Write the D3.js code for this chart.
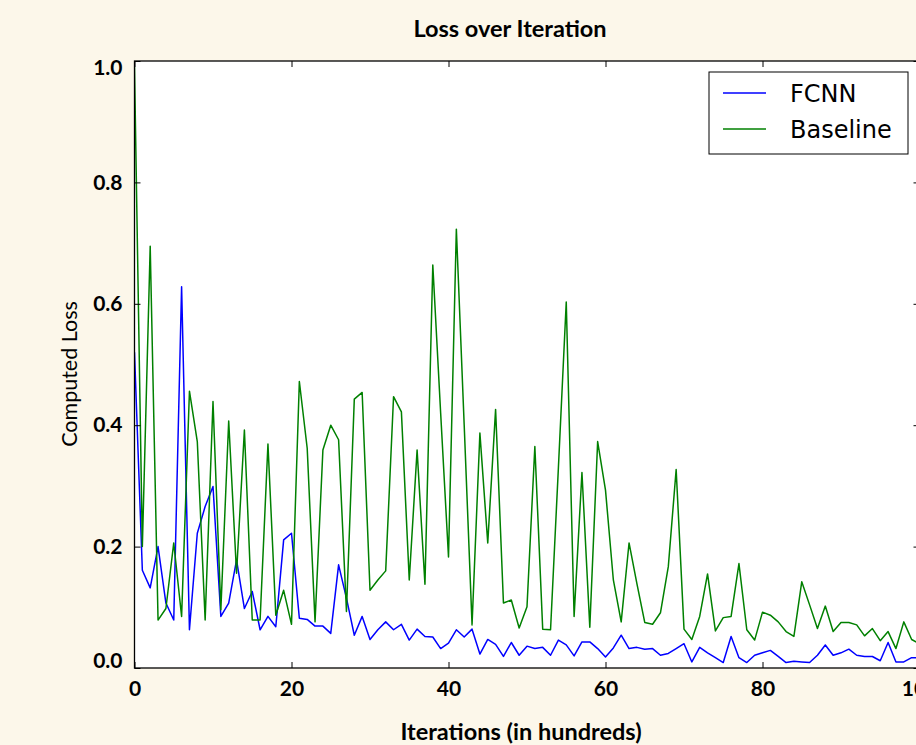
<!DOCTYPE html>
<html>
<head>
<meta charset="utf-8">
<script src="https://cdn.jsdelivr.net/npm/d3@7"></script>
<style>
  html, body { margin: 0; padding: 0; background: #fcf7ea; overflow: hidden; }
  svg { display: block; }
</style>
</head>
<body>
<svg id="chart" width="916" height="745"></svg>
<script>
// ---- Data ----
const iterations = d3.range(0, 101); // x values, in hundreds
const fcnn = [
  0.52, 0.161, 0.132, 0.200, 0.107, 0.079, 0.628, 0.063, 0.222, 0.266,
  0.299, 0.085, 0.107, 0.178, 0.098, 0.126, 0.063, 0.085, 0.068, 0.211,
  0.222, 0.082, 0.080, 0.069, 0.069, 0.057, 0.170, 0.115, 0.054, 0.085,
  0.047, 0.063, 0.076, 0.063, 0.072, 0.046, 0.064, 0.052, 0.051, 0.032,
  0.041, 0.063, 0.051, 0.064, 0.023, 0.047, 0.039, 0.019, 0.042, 0.021,
  0.036, 0.032, 0.034, 0.021, 0.046, 0.038, 0.020, 0.043, 0.043, 0.032,
  0.018, 0.033, 0.054, 0.032, 0.034, 0.031, 0.032, 0.021, 0.024, 0.032,
  0.040, 0.010, 0.034, 0.025, 0.017, 0.009, 0.052, 0.017, 0.009, 0.021,
  0.025, 0.029, 0.019, 0.009, 0.011, 0.010, 0.009, 0.021, 0.038, 0.021,
  0.025, 0.031, 0.021, 0.019, 0.019, 0.012, 0.042, 0.010, 0.010, 0.017,
  0.017
];
const baseline = [
  0.99, 0.200, 0.695, 0.079, 0.098, 0.206, 0.085, 0.456, 0.373, 0.079,
  0.439, 0.096, 0.407, 0.156, 0.392, 0.079, 0.079, 0.369, 0.087, 0.128,
  0.072, 0.472, 0.362, 0.076, 0.359, 0.400, 0.376, 0.093, 0.443, 0.454,
  0.128, 0.145, 0.160, 0.447, 0.422, 0.145, 0.359, 0.138, 0.664, 0.420,
  0.183, 0.723, 0.400, 0.071, 0.387, 0.206, 0.426, 0.107, 0.112, 0.066,
  0.101, 0.365, 0.064, 0.063, 0.330, 0.603, 0.085, 0.322, 0.067, 0.373,
  0.293, 0.145, 0.076, 0.206, 0.139, 0.075, 0.072, 0.091, 0.167, 0.327,
  0.064, 0.047, 0.085, 0.155, 0.061, 0.083, 0.085, 0.172, 0.063, 0.046,
  0.092, 0.087, 0.076, 0.060, 0.052, 0.142, 0.104, 0.065, 0.102, 0.060,
  0.075, 0.075, 0.071, 0.053, 0.065, 0.045, 0.060, 0.032, 0.076, 0.047,
  0.040
];
const xTicks = [0, 20, 40, 60, 80, 100];
const yTicks = [0.0, 0.2, 0.4, 0.6, 0.8, 1.0];
const seriesNames = ["FCNN", "Baseline"];
const seriesColors = ["#0000ff", "#008000"];

// ---- Layout ----
const svg = d3.select("#chart");
const pLeft = 134.5, pRight = 919.5, pTop = 61, pBottom = 668;
const x = d3.scaleLinear().domain([0, 100]).range([pLeft, pRight]);
const y = d3.scaleLinear().domain([0, 1]).range([pBottom, pTop]);

const fontMain = "Lato, 'Open Sans', sans-serif";

// plot background
svg.append("rect")
  .attr("x", pLeft).attr("y", pTop)
  .attr("width", pRight - pLeft).attr("height", pBottom - pTop)
  .attr("fill", "#ffffff");

// clip for lines
svg.append("clipPath").attr("id", "clip")
  .append("rect").attr("x", pLeft).attr("y", pTop)
  .attr("width", pRight - pLeft).attr("height", pBottom - pTop);

const line = d3.line().x((d, i) => x(iterations[i])).y(d => y(d));
const allSeries = [fcnn, baseline];
allSeries.forEach((s, k) => {
  svg.append("path")
    .datum(s)
    .attr("clip-path", "url(#clip)")
    .attr("fill", "none")
    .attr("stroke", seriesColors[k])
    .attr("stroke-width", 1.5)
    .attr("stroke-linejoin", "round")
    .attr("d", line);
});

// axes (ticks inward)
const tickLen = 6;
const xAxisB = d3.axisBottom(x).tickValues(xTicks).tickFormat(d3.format("d"))
  .tickSizeInner(-tickLen).tickSizeOuter(0).tickPadding(13);
const xAxisT = d3.axisTop(x).tickValues(xTicks).tickFormat("")
  .tickSizeInner(-tickLen).tickSizeOuter(0);
const yAxisL = d3.axisLeft(y).tickValues(yTicks).tickFormat(d3.format(".1f"))
  .tickSizeInner(-tickLen).tickSizeOuter(0).tickPadding(12);
const yAxisR = d3.axisRight(y).tickValues(yTicks).tickFormat("")
  .tickSizeInner(-tickLen).tickSizeOuter(0);

function styleAxis(g) {
  g.select(".domain").remove();
  g.selectAll(".tick line").attr("stroke", "#000").attr("stroke-width", 1);
  g.selectAll("text")
    .attr("fill", "#000")
    .style("font-family", fontMain)
    .style("font-weight", "700")
    .style("font-size", "21px");
}
svg.append("g").attr("transform", `translate(0,${pBottom})`).call(xAxisB).call(styleAxis);
svg.append("g").attr("transform", `translate(0,${pTop})`).call(xAxisT).call(styleAxis);
const gyl = svg.append("g").attr("transform", `translate(${pLeft},0)`).call(yAxisL).call(styleAxis);
// edge labels sit slightly inside the axis range, as in the reference
gyl.selectAll(".tick text").attr("dy", d => d === 1 ? "0.62em" : d === 0 ? "-0.02em" : "0.32em");
svg.append("g").attr("transform", `translate(${pRight},0)`).call(yAxisR).call(styleAxis);

// spines
svg.append("rect")
  .attr("x", pLeft).attr("y", pTop)
  .attr("width", pRight - pLeft).attr("height", pBottom - pTop)
  .attr("fill", "none").attr("stroke", "#000").attr("stroke-width", 1.3);

// title and labels
svg.append("text")
  .attr("x", 510).attr("y", 37)
  .attr("text-anchor", "middle")
  .style("font-family", fontMain).style("font-weight", "700").style("font-size", "23.5px")
  .text("Loss over Iteration");
svg.append("text")
  .attr("x", 521).attr("y", 740)
  .attr("text-anchor", "middle")
  .style("font-family", fontMain).style("font-weight", "700").style("font-size", "23.5px")
  .text("Iterations (in hundreds)");
svg.append("text")
  .attr("transform", "translate(77,374) rotate(-90)")
  .attr("text-anchor", "middle")
  .style("font-family", fontMain).style("font-weight", "400").style("font-size", "21.5px")
  .text("Computed Loss");

// legend
const lg = svg.append("g");
lg.append("rect")
  .attr("x", 709).attr("y", 72).attr("width", 199).attr("height", 82)
  .attr("fill", "#fff").attr("stroke", "#000").attr("stroke-width", 1);
seriesNames.forEach((name, k) => {
  const yy = 93 + k * 36;
  lg.append("line")
    .attr("x1", 723).attr("x2", 766).attr("y1", yy).attr("y2", yy)
    .attr("stroke", seriesColors[k]).attr("stroke-width", 1.5);
  lg.append("text")
    .attr("x", 790).attr("y", yy + 9)
    .style("font-family", "'DejaVu Sans', sans-serif").style("font-size", "24px")
    .text(name);
});
</script>
</body>
</html>
